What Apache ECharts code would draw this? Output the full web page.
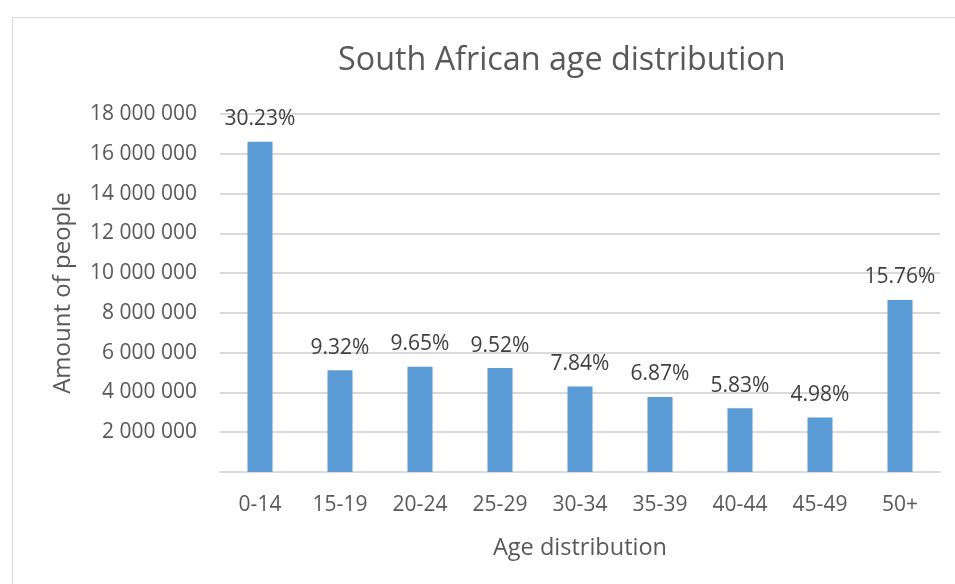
<!DOCTYPE html>
<html>
<head>
<meta charset="utf-8">
<script src="https://cdn.jsdelivr.net/npm/echarts@6/dist/echarts.min.js"></script>
<style>
  html, body { margin: 0; padding: 0; background: #ffffff; }
  #chart { width: 955px; height: 584px; }
</style>
</head>
<body>
<div id="chart"></div>
<script>
// Age groups and population counts
var ageGroups = ['0-14', '15-19', '20-24', '25-29', '30-34', '35-39', '40-44', '45-49', '50+'];
var people = [16600000, 5118000, 5298000, 5227000, 4305000, 3772000, 3201000, 2734000, 8654000];
var shareLabels = ['30.23%', '9.32%', '9.65%', '9.52%', '7.84%', '6.87%', '5.83%', '4.98%', '15.76%'];
var yTicks = { min: 0, max: 18000000, step: 2000000 };

var FONT = 'Open Sans';

function spaced(v) {
  if (v === 0) return '';
  return String(v).replace(/\B(?=(\d{3})+(?!\d))/g, ' ');
}

var chart = echarts.init(document.getElementById('chart'), null, { renderer: 'canvas' });

chart.setOption({
  backgroundColor: '#ffffff',
  animation: false,
  textStyle: { fontFamily: FONT },
  graphic: [{
    type: 'rect',
    left: 10, top: 15,
    shape: { width: 1000, height: 1000 },
    style: { fill: 'none', stroke: '#d9d9d9', lineWidth: 1 },
    silent: true
  }],
  title: {
    text: 'South African age distribution',
    left: 333,
    top: 40,
    textStyle: { fontFamily: FONT, fontSize: 32.3, fontWeight: 'normal', color: '#595959' }
  },
  grid: { left: 220, right: 15, top: 114, bottom: 112, containLabel: false },
  xAxis: {
    type: 'category',
    data: ageGroups,
    name: 'Age distribution',
    nameLocation: 'middle',
    nameGap: 64,
    nameTextStyle: { fontFamily: FONT, fontSize: 23.5, color: '#595959' },
    axisLine: { show: true, lineStyle: { color: '#d9d9d9', width: 2 } },
    axisTick: { show: false },
    axisLabel: { fontFamily: FONT, fontSize: 21, color: '#595959', margin: 23 }
  },
  yAxis: {
    type: 'value',
    min: yTicks.min,
    max: yTicks.max,
    interval: yTicks.step,
    name: 'Amount of people',
    nameLocation: 'middle',
    nameGap: 145,
    nameTextStyle: { fontFamily: FONT, fontSize: 24, color: '#595959' },
    axisLine: { show: false },
    axisTick: { show: false },
    splitLine: { lineStyle: { color: '#d9d9d9', width: 2 } },
    axisLabel: { fontFamily: FONT, fontSize: 21, color: '#595959', margin: 23, formatter: spaced }
  },
  series: [{
    type: 'bar',
    data: people,
    barWidth: 25,
    itemStyle: { color: '#5b9bd5' },
    label: {
      show: true,
      position: 'top',
      distance: 12,
      fontFamily: FONT,
      fontSize: 21,
      color: '#404040',
      formatter: function (p) { return shareLabels[p.dataIndex]; }
    }
  }]
});
</script>
</body>
</html>
